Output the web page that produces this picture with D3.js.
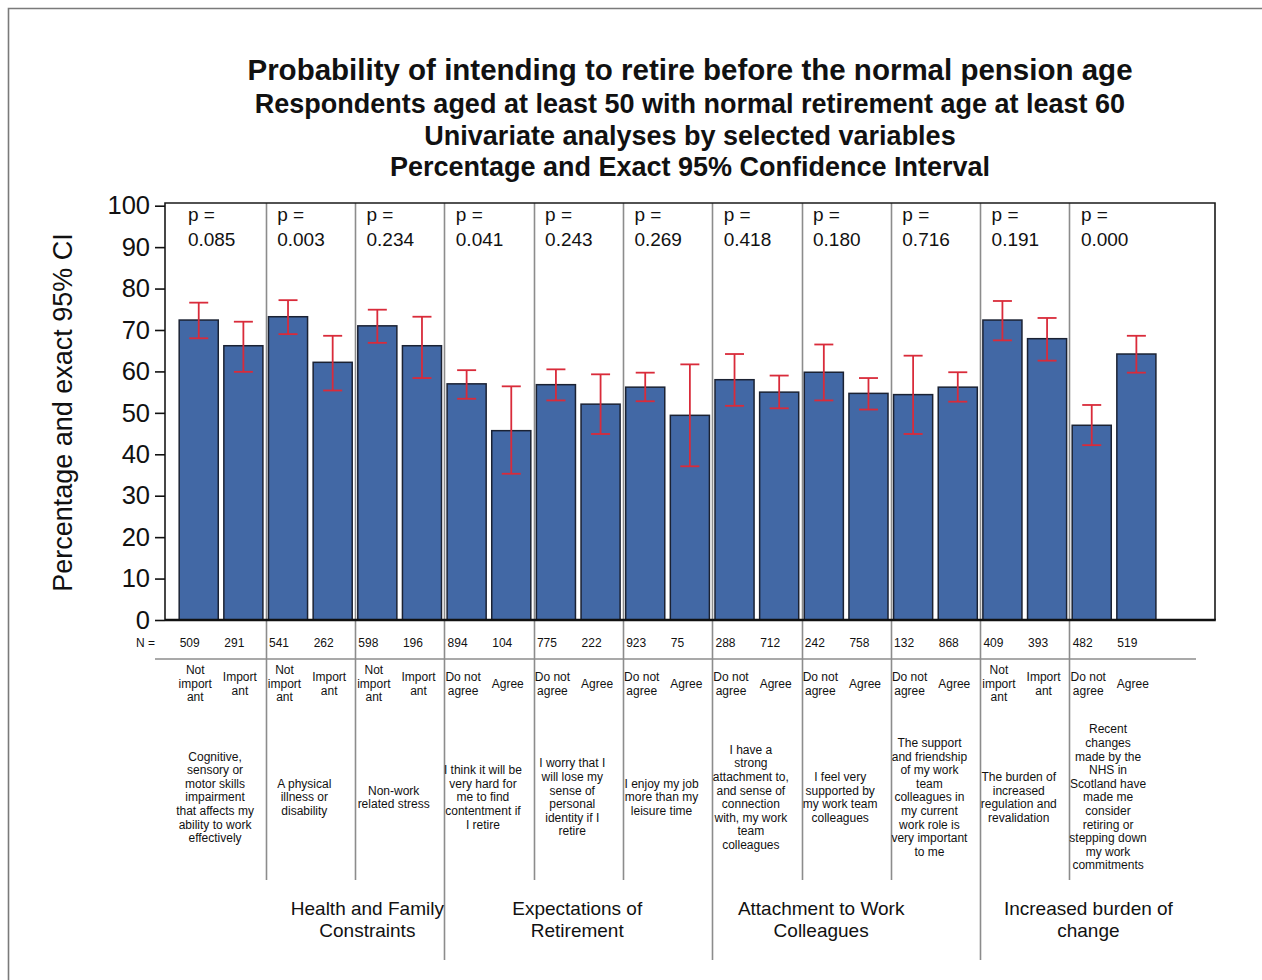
<!DOCTYPE html>
<html>
<head>
<meta charset="utf-8">
<script src="https://cdn.jsdelivr.net/npm/d3@7"></script>
<style>
  html, body { margin: 0; padding: 0; background: #fff; }
  svg { display: block; font-family: Arial, "Liberation Sans", sans-serif; }
</style>
</head>
<body>
<svg id="chart" width="1262" height="980"></svg>
<script>
// ---- data ----
const titleLines = [
  "Probability of intending to retire before the normal pension age",
  "Respondents aged at least 50 with normal retirement age at least 60",
  "Univariate analyses by selected variables",
  "Percentage and Exact 95% Confidence Interval"
];
const yAxisLabel = "Percentage and exact 95% CI";
const yTicks = [0, 10, 20, 30, 40, 50, 60, 70, 80, 90, 100];

// one entry per variable (pair of bars)
const pValues = ["0.085", "0.003", "0.234", "0.041", "0.243", "0.269", "0.418", "0.180", "0.716", "0.191", "0.000"];
const descriptions = [
  ["Cognitive,", "sensory or", "motor skills", "impairment", "that affects my", "ability to work", "effectively"],
  ["A physical", "illness or", "disability"],
  ["Non-work", "related stress"],
  ["I think it will be", "very hard for", "me to find", "contentment if", "I retire"],
  ["I worry that I", "will lose my", "sense of", "personal", "identity if I", "retire"],
  ["I enjoy my job", "more than my", "leisure time"],
  ["I have a", "strong", "attachment to,", "and sense of", "connection", "with, my work", "team", "colleagues"],
  ["I feel very", "supported by", "my work team", "colleagues"],
  ["The support", "and friendship", "of my work", "team", "colleagues in", "my current", "work role is", "very important", "to me"],
  ["The burden of", "increased", "regulation and", "revalidation"],
  ["Recent", "changes", "made by the", "NHS in", "Scotland have", "made me", "consider", "retiring or", "stepping down", "my work", "commitments"]
];

// one entry per bar
const levels = [
  "Not important", "Important",
  "Not important", "Important",
  "Not important", "Important",
  "Do not agree", "Agree",
  "Do not agree", "Agree",
  "Do not agree", "Agree",
  "Do not agree", "Agree",
  "Do not agree", "Agree",
  "Do not agree", "Agree",
  "Not important", "Important",
  "Do not agree", "Agree"
];
const percent = [72.4, 66.2, 73.2, 62.2, 71.0, 66.2, 57.0, 45.7, 56.8, 52.1, 56.2, 49.4, 58.0, 55.0, 59.8, 54.7, 54.4, 56.2, 72.4, 67.9, 47.0, 64.2];
const ciLow   = [68.0, 59.9, 69.0, 55.4, 66.9, 58.4, 53.4, 35.3, 53.0, 44.9, 52.8, 37.1, 51.7, 51.1, 53.0, 50.8, 44.9, 52.7, 67.5, 62.6, 42.2, 59.7];
const ciHigh  = [76.6, 72.0, 77.2, 68.6, 74.9, 73.2, 60.3, 56.4, 60.5, 59.3, 59.7, 61.7, 64.2, 59.0, 66.5, 58.4, 63.8, 59.8, 77.0, 72.9, 51.9, 68.6];
const nCounts = [509, 291, 541, 262, 598, 196, 894, 104, 775, 222, 923, 75, 288, 712, 242, 758, 132, 868, 409, 393, 482, 519];

// top-level themes, as ranges of variables [first, last]
const themes = ["Health and Family\nConstraints", "Expectations of\nRetirement", "Attachment to Work\nColleagues", "Increased burden of\nchange"];
const themeSpans = [[0, 2], [3, 5], [6, 8], [9, 10]];

// ---- layout ----
const W = 1262, H = 980;
const plot = { left: 165, right: 1215, top: 203, bottom: 620 };
const barRange = [176.4, 1158.7];
const themeLabelNudge = [57, -1, -25, 19];
const fontFamily = 'Arial, "Liberation Sans", sans-serif';
const barFill = "#4268a5", barStroke = "#1b2233", ciColor = "#d92b3a", sepColor = "#8c8c8c";

const svg = d3.select("#chart");

// outer frame
svg.append("path")
  .attr("d", `M8.5,${H} V8.5 H${W}`)
  .attr("fill", "none").attr("stroke", "#7a7a7a").attr("stroke-width", 1.6);

// titles
const titleSizes = [29.5, 27, 27, 27];
const titleY = [80, 113, 145, 176];
const titleX = (plot.left + plot.right) / 2;
titleLines.forEach((t, i) => {
  svg.append("text")
    .attr("x", titleX).attr("y", titleY[i])
    .attr("text-anchor", "middle")
    .attr("font-weight", "bold")
    .attr("font-size", titleSizes[i])
    .attr("fill", "#111")
    .text(t);
});

// scales
const y = d3.scaleLinear().domain([0, 100]).range([plot.bottom, 205.7]);
const x = d3.scaleBand().domain(d3.range(percent.length)).range(barRange)
  .paddingInner(0.125).paddingOuter(0.0625);
const step = x.step();
const groupLeft = g => barRange[0] + step * 2 * g;

// separators between variables (drawn first, behind bars)
const majorBreaks = new Set(themeSpans.slice(1).map(s => s[0]));
const sepG = svg.append("g");
d3.range(1, pValues.length).forEach(g => {
  const sx = Math.round(groupLeft(g)) + 0.5;
  sepG.append("line")
    .attr("x1", sx).attr("x2", sx)
    .attr("y1", plot.top).attr("y2", majorBreaks.has(g) ? 960 : 880)
    .attr("stroke", sepColor).attr("stroke-width", 1.6);
});

// horizontal rule beneath the N row
svg.append("line")
  .attr("x1", 155).attr("x2", 1196).attr("y1", 659).attr("y2", 659)
  .attr("stroke", sepColor).attr("stroke-width", 1.6);

// bars
svg.append("g").selectAll("rect").data(percent).join("rect")
  .attr("x", (d, i) => x(i))
  .attr("y", d => y(d))
  .attr("width", x.bandwidth())
  .attr("height", d => y(0) - y(d))
  .attr("fill", barFill)
  .attr("stroke", barStroke)
  .attr("stroke-width", 1.5);

// confidence intervals
const ci = svg.append("g").attr("stroke", ciColor).attr("stroke-width", 1.8).attr("fill", "none");
const cap = 9.5;
percent.forEach((p, i) => {
  const cx = x(i) + x.bandwidth() / 2;
  ci.append("line").attr("x1", cx).attr("x2", cx).attr("y1", y(ciLow[i])).attr("y2", y(ciHigh[i]));
  ci.append("line").attr("x1", cx - cap).attr("x2", cx + cap).attr("y1", y(ciLow[i])).attr("y2", y(ciLow[i]));
  ci.append("line").attr("x1", cx - cap).attr("x2", cx + cap).attr("y1", y(ciHigh[i])).attr("y2", y(ciHigh[i]));
});

// plot frame
svg.append("path")
  .attr("d", `M${plot.left},${plot.bottom} V${plot.top} H${plot.right} V${plot.bottom}`)
  .attr("fill", "none").attr("stroke", "#1a1a1a").attr("stroke-width", 1.6);
svg.append("line")
  .attr("x1", plot.left).attr("x2", plot.right + 0.8)
  .attr("y1", plot.bottom).attr("y2", plot.bottom)
  .attr("stroke", "#111").attr("stroke-width", 2.6);

// y axis
const yAxis = d3.axisLeft(y).tickValues(yTicks).tickSize(10).tickPadding(5);
const yg = svg.append("g").attr("transform", `translate(${plot.left},0)`).call(yAxis);
yg.select(".domain").remove();
yg.selectAll(".tick line").attr("stroke", "#111").attr("stroke-width", 1.6);
yg.selectAll(".tick text")
  .attr("font-family", fontFamily).attr("font-size", 25.5).attr("fill", "#111");

svg.append("text")
  .attr("transform", `translate(72,${(plot.top + plot.bottom) / 2 + 1}) rotate(-90)`)
  .attr("text-anchor", "middle")
  .attr("font-size", 27).attr("fill", "#111")
  .text(yAxisLabel);

// p-values
pValues.forEach((p, g) => {
  const t = svg.append("text")
    .attr("x", groupLeft(g) + 11.5).attr("y", 221)
    .attr("font-size", 19).attr("fill", "#111");
  t.append("tspan").attr("x", groupLeft(g) + 11.5).text("p =");
  t.append("tspan").attr("x", groupLeft(g) + 11.5).attr("dy", 25).text(p);
});

// N row
svg.append("text").attr("x", 155).attr("y", 646.5)
  .attr("text-anchor", "end").attr("font-size", 12).attr("fill", "#111").text("N =");
svg.append("g").selectAll("text").data(nCounts).join("text")
  .attr("x", (d, i) => x(i) + 0.5).attr("y", 646.5)
  .attr("font-size", 12).attr("fill", "#111")
  .text(d => d);

// multi-line centred text helper
function block(cx, cy, lines, size, lh) {
  const t = svg.append("text")
    .attr("text-anchor", "middle").attr("font-size", size).attr("fill", "#111");
  const y0 = cy - (lines.length - 1) * lh / 2 + size * 0.36;
  lines.forEach((ln, k) => {
    t.append("tspan").attr("x", cx).attr("y", y0 + k * lh).text(ln);
  });
}

// level labels
const levelLines = {
  "Not important": ["Not", "import", "ant"],
  "Important": ["Import", "ant"],
  "Do not agree": ["Do not", "agree"],
  "Agree": ["Agree"]
};
levels.forEach((lv, i) => {
  block(x(i) + x.bandwidth() / 2 - 3.5, 683.5, levelLines[lv], 12, 13.5);
});

// variable descriptions
descriptions.forEach((lines, g) => {
  block(groupLeft(g) + step - 6, 797, lines, 12, 13.6);
});

// theme labels
themes.forEach((t, k) => {
  const [a, b] = themeSpans[k];
  const cx = (groupLeft(a) + groupLeft(b + 1)) / 2 + themeLabelNudge[k];
  block(cx, 919, t.split("\n"), 19, 22);
});
</script>
</body>
</html>
